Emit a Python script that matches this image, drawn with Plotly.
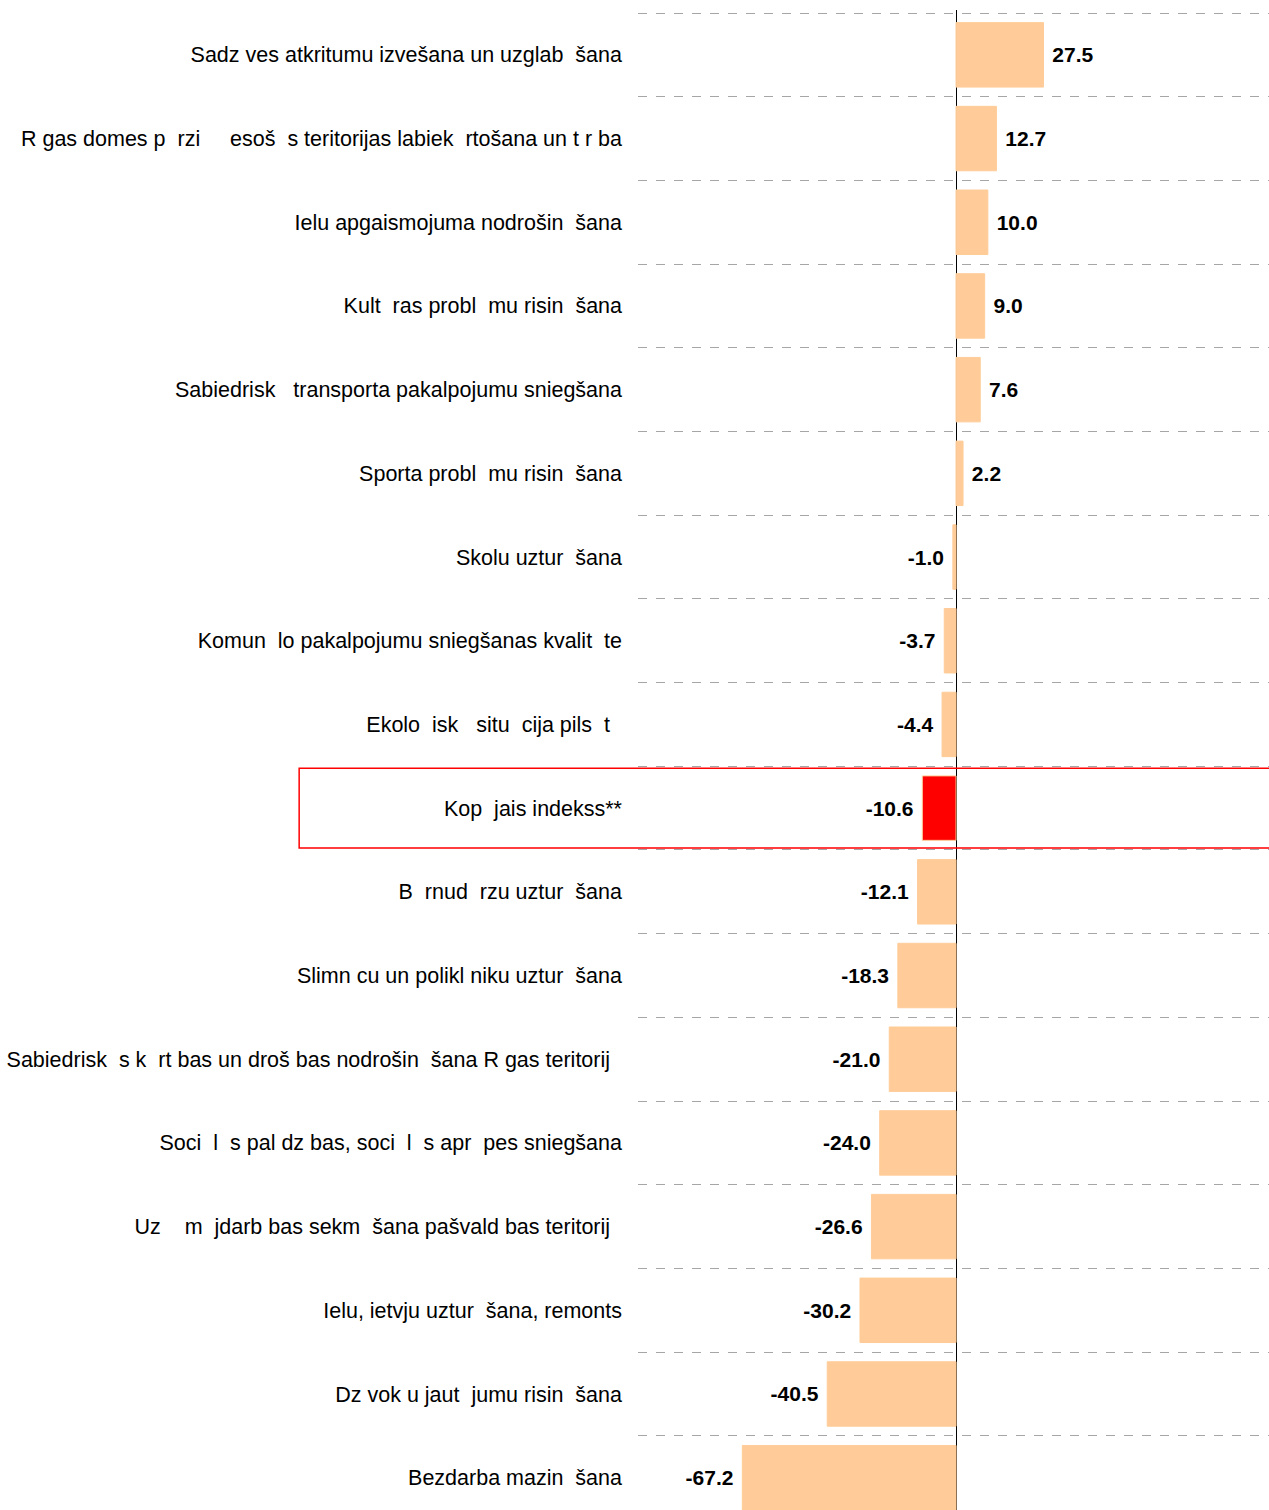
import plotly.graph_objects as go

categories = [
    "Sadz ves atkritumu izvešana un uzglab  šana",
    "R gas domes p  rzi     esoš  s teritorijas labiek  rtošana un t r ba",
    "Ielu apgaismojuma nodrošin  šana",
    "Kult  ras probl  mu risin  šana",
    "Sabiedrisk   transporta pakalpojumu sniegšana",
    "Sporta probl  mu risin  šana",
    "Skolu uztur  šana",
    "Komun  lo pakalpojumu sniegšanas kvalit  te",
    "Ekolo  isk   situ  cija pils  t  ",
    "Kop  jais indekss**",
    "B  rnud  rzu uztur  šana",
    "Slimn cu un polikl niku uztur  šana",
    "Sabiedrisk  s k  rt bas un droš bas nodrošin  šana R gas teritorij  ",
    "Soci  l  s pal dz bas, soci  l  s apr  pes sniegšana",
    "Uz    m  jdarb bas sekm  šana pašvald bas teritorij  ",
    "Ielu, ietvju uztur  šana, remonts",
    "Dz vok u jaut  jumu risin  šana",
    "Bezdarba mazin  šana",
]
values = [27.5, 12.7, 10.0, 9.0, 7.6, 2.2, -1.0, -3.7, -4.4, -10.6,
          -12.1, -18.3, -21.0, -24.0, -26.6, -30.2, -40.5, -67.2]
highlight = "Kop  jais indekss**"

PEACH = "#FFCC99"
RED = "#FF0000"

labels = [c.replace(" ", "\u00a0") for c in categories]
colors = [RED if c == highlight else PEACH for c in categories]
texts = [("\u00a0" + f"{v:.1f}") if v >= 0 else (f"{v:.1f}" + "\u00a0") for v in values]

fig = go.Figure()
fig.add_trace(go.Bar(
    x=values, y=labels, orientation="h",
    marker=dict(color=colors, line=dict(color=PEACH, width=1)),
    width=0.77,
    text=texts, textposition="outside", cliponaxis=False, constraintext="none",
    textfont=dict(family="Liberation Sans, Arial, sans-serif", size=21, color="black", weight="bold"),
    showlegend=False, hoverinfo="skip",
))

n = len(categories)
hl_idx = categories.index(highlight)
fig.add_shape(type="rect", xref="paper", yref="y",
              x0=-0.537, x1=1.05, y0=hl_idx - 0.476, y1=hl_idx + 0.476,
              line=dict(color=RED, width=1.5), fillcolor="rgba(0,0,0,0)", layer="above")

fig.update_layout(
    width=1269, height=1510,
    margin=dict(l=638, r=0, t=10, b=0),
    paper_bgcolor="white", plot_bgcolor="white",
    font=dict(family="Liberation Sans, Arial, sans-serif", size=21, color="black"),
)
fig.update_xaxes(range=[-100, 98.4], showgrid=False, showticklabels=False,
                 zeroline=True, zerolinecolor="black", zerolinewidth=1, showline=False, ticks="")
fig.update_yaxes(type="category", categoryorder="array", categoryarray=labels,
                 range=[n - 0.614, -0.536], tickson="boundaries",
                 showgrid=True, gridcolor="#A6A6A6", griddash="dash", gridwidth=1,
                 ticks="", ticklabelstandoff=15, showline=False, zeroline=False,
                 tickfont=dict(size=21.5, color="black"))

fig.write_html("out.html", config={"displayModeBar": False},
               post_script="document.body.style.margin='0px';document.body.style.overflow='hidden';")
